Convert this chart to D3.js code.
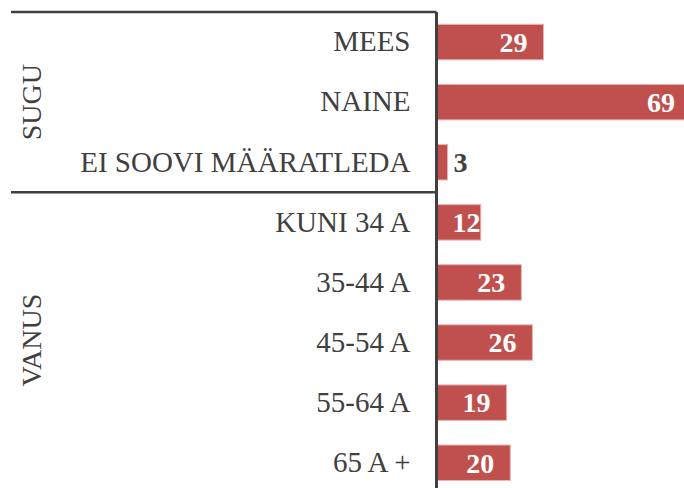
<!DOCTYPE html>
<html>
<head>
<meta charset="utf-8">
<script src="https://cdn.jsdelivr.net/npm/d3@7"></script>
<style>
  body { margin: 0; background: #fff; }
</style>
</head>
<body>
<div id="chart"></div>
<script>
// data
var categories = ["MEES", "NAINE", "EI SOOVI MÄÄRATLEDA", "KUNI 34 A", "35-44 A", "45-54 A", "55-64 A", "65 A +"];
var values     = [29, 69, 3, 12, 23, 26, 19, 20];
var groupNames = ["SUGU", "VANUS"];
var groupSizes = [3, 5];

var width = 684, height = 488,
    axisX = 436.5,
    plotTop = 12,
    step = 60.1,
    serif = "'Liberation Serif', 'Times New Roman', 'DejaVu Serif', serif";

var svg = d3.select("#chart")
  .append("svg")
  .attr("width", width)
  .attr("height", height);

var y = d3.scaleBand()
  .domain(categories)
  .range([plotTop, plotTop + step * categories.length])
  .paddingInner(0.41)
  .paddingOuter(0.205);

var x = d3.scaleLinear()
  .domain([0, 100])
  .range([axisX, axisX + 369]);

// bars
svg.selectAll("rect.bar")
  .data(categories)
  .enter().append("rect")
  .attr("class", "bar")
  .attr("x", x(0))
  .attr("y", function(d) { return y(d); })
  .attr("width", function(d, i) { return x(values[i]) - x(0); })
  .attr("height", y.bandwidth())
  .attr("fill", "#c0504d")
  .attr("stroke", "#e8b4b3")
  .attr("stroke-width", 1);

// value labels
svg.selectAll("text.val")
  .data(categories)
  .enter().append("text")
  .attr("class", "val")
  .attr("y", function(d) { return y(d) + y.bandwidth() / 2; })
  .attr("dy", "0.35em")
  .style("font-family", serif)
  .style("font-size", "28px")
  .style("font-weight", "bold")
  .each(function(d, i) {
    var t = d3.select(this), v = values[i], end = x(v);
    if (v < 8) {
      t.attr("x", end + 6).attr("text-anchor", "start").attr("fill", "#404040");
    } else {
      t.attr("x", Math.min(Math.max(end - 16, x(0) + 44), width - 6)).attr("text-anchor", "end").attr("fill", "#fff");
    }
    t.text(v);
  });

// category axis
var yAxis = svg.append("g")
  .attr("transform", "translate(" + axisX + ",0)")
  .call(d3.axisLeft(y).tickSize(0).tickPadding(26));

yAxis.select(".domain").remove();
yAxis.selectAll("text")
  .style("font-family", serif)
  .style("font-size", "29px")
  .attr("fill", "#404040");

svg.append("line")
  .attr("x1", axisX).attr("x2", axisX)
  .attr("y1", plotTop).attr("y2", height)
  .attr("stroke", "#404040")
  .attr("stroke-width", 3);

// group brackets and labels
var start = 0;
groupNames.forEach(function(g, k) {
  var y0 = plotTop + step * start,
      y1 = plotTop + step * (start + groupSizes[k]);
  svg.append("line")
    .attr("x1", 11).attr("x2", axisX)
    .attr("y1", y0).attr("y2", y0)
    .attr("stroke", "#404040")
    .attr("stroke-width", 2.5);
  var cy = (y0 + Math.min(y1, height)) / 2;
  svg.append("text")
    .attr("transform", "translate(31," + cy + ") rotate(-90)")
    .attr("text-anchor", "middle")
    .attr("dy", "0.35em")
    .style("font-family", serif)
    .style("font-size", "28px")
    .attr("fill", "#404040")
    .text(g);
  start += groupSizes[k];
});
</script>
</body>
</html>
